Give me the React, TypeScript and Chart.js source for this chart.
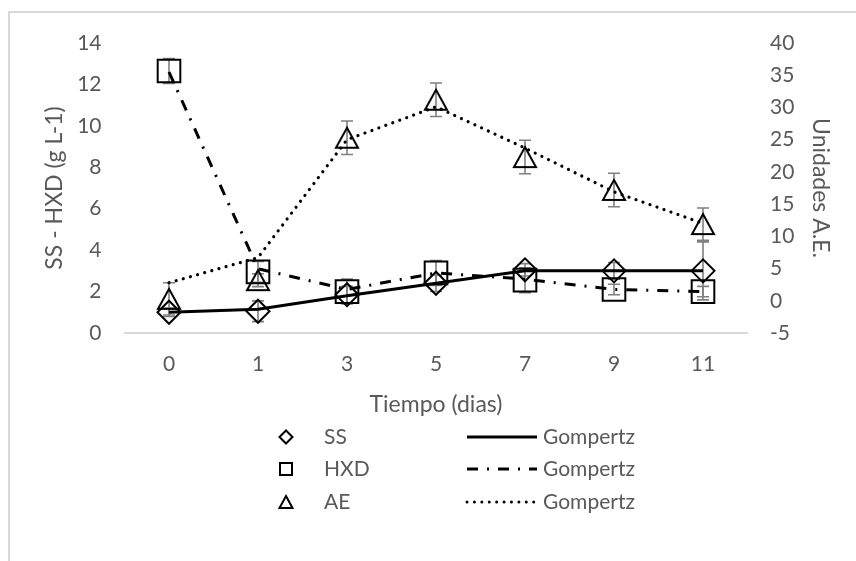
import React, { useEffect, useRef } from 'react';
import { Chart, registerables } from 'chart.js';

Chart.register(...registerables);

// ---- data ----
const days = ['0', '1', '3', '5', '7', '9', '11'];

const ssValues = [1.0, 1.05, 1.85, 2.4, 3.05, 3.0, 3.0];
const ssErrors = [0.2, 0.5, 0.4, 0.4, 0.3, 0.4, 1.4];
const ssGompertz = [1.0, 1.15, 1.8, 2.4, 3.0, 3.0, 3.0];

const hxdValues = [12.65, 2.95, 2.0, 2.9, 2.55, 2.1, 2.0];
const hxdErrors = [0.6, 0.5, 0.6, 0.6, 0.6, 0.25, 0.25];
const hxdGompertz = [12.6, 3.1, 2.1, 2.9, 2.6, 2.1, 2.0];

const aeValues = [0.3, 3.2, 25.3, 31.2, 22.3, 17.2, 11.9];
const aeErrors = [2.5, 1.0, 2.6, 2.6, 2.6, 2.6, 2.5];
const aeGompertz = [2.8, 6.7, 25.0, 30.1, 23.7, 16.9, 12.0];

const legendMarkerLabels = ['SS', 'HXD', 'AE'];
const legendLineLabels = ['Gompertz', 'Gompertz', 'Gompertz'];

const leftTitle = 'SS - HXD (g L-1)';
const rightTitle = 'Unidades A.E.';
const xTitle = 'Tiempo (dias)';

// ---- styles ----
const TEXT = '#595959';
const FONT = 'Lato, "Open Sans", sans-serif';
const TICK_SIZE = 21;
const TITLE_SIZE = 23;
const DASH_DOT = [11, 9, 2, 9];
const DOTS = [0.01, 7.4];

function makeTriangle(w: number, h: number, lw: number): HTMLCanvasElement {
  const c = document.createElement('canvas');
  const pad = 10;
  c.width = Math.ceil(w) + pad * 2;
  c.height = Math.ceil(h) + pad * 2;
  if (c.width % 2) c.width += 1;
  if (c.height % 2) c.height += 1;
  const ctx = c.getContext('2d')!;
  const cx = c.width / 2;
  const cy = c.height / 2;
  ctx.beginPath();
  ctx.moveTo(cx, cy - h / 2);
  ctx.lineTo(cx + w / 2, cy + h / 2);
  ctx.lineTo(cx - w / 2, cy + h / 2);
  ctx.closePath();
  ctx.lineWidth = lw;
  ctx.lineJoin = 'miter';
  ctx.strokeStyle = '#000';
  ctx.stroke();
  return c;
}

const errorBarPlugin = {
  id: 'errorBars',
  beforeDatasetsDraw(chart: any) {
    const sets = [
      { idx: 0, values: ssValues, errors: ssErrors, axis: 'y' },
      { idx: 2, values: hxdValues, errors: hxdErrors, axis: 'y' },
      { idx: 4, values: aeValues, errors: aeErrors, axis: 'y1' },
    ];
    const ctx = chart.ctx;
    ctx.save();
    ctx.strokeStyle = '#808080';
    ctx.lineWidth = 1.6;
    for (const s of sets) {
      const meta = chart.getDatasetMeta(s.idx);
      const scale = chart.scales[s.axis];
      meta.data.forEach((el: any, i: number) => {
        const x = el.x;
        const yTop = scale.getPixelForValue(s.values[i] + s.errors[i]);
        const yBot = scale.getPixelForValue(s.values[i] - s.errors[i]);
        ctx.beginPath();
        ctx.moveTo(x, yTop);
        ctx.lineTo(x, yBot);
        ctx.moveTo(x - 6, yTop);
        ctx.lineTo(x + 6, yTop);
        ctx.moveTo(x - 6, yBot);
        ctx.lineTo(x + 6, yBot);
        ctx.stroke();
      });
    }
    ctx.restore();
  },
};

const customLegendPlugin = {
  id: 'customLegend',
  afterDraw(chart: any) {
    const ctx = chart.ctx;
    const rows = [437, 469, 502];
    const markerX = 286;
    const labelX = 324;
    const lineX1 = 467;
    const lineX2 = 537;
    const textX = 543;
    const dashes = [[], DASH_DOT, DOTS];
    ctx.save();
    ctx.font = `${TICK_SIZE}px ${FONT}`;
    ctx.fillStyle = TEXT;
    ctx.textBaseline = 'middle';
    ctx.textAlign = 'left';
    rows.forEach((y, i) => {
      ctx.save();
      ctx.strokeStyle = '#000';
      ctx.lineWidth = 2;
      ctx.beginPath();
      if (i === 0) {
        const r = 6.5;
        ctx.moveTo(markerX, y - r);
        ctx.lineTo(markerX + r, y);
        ctx.lineTo(markerX, y + r);
        ctx.lineTo(markerX - r, y);
        ctx.closePath();
      } else if (i === 1) {
        ctx.rect(markerX - 6, y - 6, 12, 12);
      } else {
        ctx.moveTo(markerX, y - 6);
        ctx.lineTo(markerX + 6.5, y + 6);
        ctx.lineTo(markerX - 6.5, y + 6);
        ctx.closePath();
      }
      ctx.stroke();
      ctx.restore();
      ctx.fillText(legendMarkerLabels[i], labelX, y);
      ctx.save();
      ctx.strokeStyle = '#000';
      ctx.lineWidth = 3;
      ctx.setLineDash(dashes[i]);
      ctx.lineCap = i === 2 ? 'round' : 'butt';
      ctx.beginPath();
      ctx.moveTo(lineX1, y);
      ctx.lineTo(lineX2, y);
      ctx.stroke();
      ctx.restore();
      ctx.fillText(legendLineLabels[i], textX, y);
    });
    ctx.restore();
  },
};

export default function App() {
  const canvasRef = useRef<HTMLCanvasElement | null>(null);

  useEffect(() => {
    document.body.style.margin = '0';
    const canvas = canvasRef.current;
    if (!canvas) return;
    const triangle = makeTriangle(22, 20, 2);

    const chart = new Chart(canvas, {
      type: 'line',
      data: {
        labels: days,
        datasets: [
          {
            label: 'SS',
            data: ssValues,
            yAxisID: 'y',
            showLine: false,
            pointStyle: 'rectRot',
            pointRadius: 11.5,
            pointBorderWidth: 2,
            pointBorderColor: '#000',
            pointBackgroundColor: 'rgba(0,0,0,0)',
            borderColor: '#000',
          },
          {
            label: 'Gompertz',
            data: ssGompertz,
            yAxisID: 'y',
            borderColor: '#000',
            borderWidth: 3,
            pointRadius: 0,
            tension: 0,
          },
          {
            label: 'HXD',
            data: hxdValues,
            yAxisID: 'y',
            showLine: false,
            pointStyle: 'rect',
            pointRadius: 16,
            pointBorderWidth: 2,
            pointBorderColor: '#000',
            pointBackgroundColor: 'rgba(0,0,0,0)',
            borderColor: '#000',
          },
          {
            label: 'Gompertz',
            data: hxdGompertz,
            yAxisID: 'y',
            borderColor: '#000',
            borderWidth: 3,
            borderDash: DASH_DOT,
            pointRadius: 0,
            tension: 0,
          },
          {
            label: 'AE',
            data: aeValues,
            yAxisID: 'y1',
            showLine: false,
            pointStyle: triangle,
            pointRadius: 12,
            pointBorderColor: '#000',
            pointBackgroundColor: 'rgba(0,0,0,0)',
            borderColor: '#000',
          },
          {
            label: 'Gompertz',
            data: aeGompertz,
            yAxisID: 'y1',
            borderColor: '#000',
            borderWidth: 3.2,
            borderDash: DOTS,
            borderCapStyle: 'round',
            pointRadius: 0,
            tension: 0,
          },
        ],
      },
      options: {
        animation: false,
        responsive: true,
        maintainAspectRatio: false,
        layout: { padding: { top: 43, left: 0, right: 0, bottom: 138 } },
        plugins: {
          legend: { display: false },
          tooltip: { enabled: false },
        },
        scales: {
          x: {
            type: 'category',
            offset: true,
            grid: { display: false, drawTicks: false },
            border: { display: true, color: '#d9d9d9', width: 2 },
            ticks: { color: TEXT, font: { family: FONT, size: TICK_SIZE }, padding: 18.9, maxRotation: 0 },
            title: {
              display: true,
              text: xTitle,
              color: TEXT,
              font: { family: FONT, size: TITLE_SIZE },
              padding: { top: 0, bottom: 4.2 },
            },
            afterFit: (s: any) => {
              s.height = 90;
            },
          },
          y: {
            position: 'left',
            min: 0,
            max: 14,
            grid: { display: false, drawTicks: false },
            border: { display: false },
            ticks: { stepSize: 2, color: TEXT, font: { family: FONT, size: TICK_SIZE }, padding: 23 },
            title: {
              display: true,
              text: leftTitle,
              color: TEXT,
              font: { family: FONT, size: TITLE_SIZE },
              padding: { top: 41.2, bottom: 0 },
            },
            afterFit: (s: any) => {
              s.width = 124.5;
            },
          },
          y1: {
            position: 'right',
            min: -5,
            max: 40,
            grid: { display: false, drawTicks: false },
            border: { display: false },
            ticks: { stepSize: 5, color: TEXT, font: { family: FONT, size: TICK_SIZE }, padding: 22.5 },
            title: {
              display: true,
              text: rightTitle,
              color: TEXT,
              font: { family: FONT, size: TITLE_SIZE },
              padding: { top: 22.2, bottom: 0 },
            },
            afterFit: (s: any) => {
              s.width = 108.5;
            },
          },
        },
      } as any,
      plugins: [errorBarPlugin, customLegendPlugin],
    });

    return () => {
      chart.destroy();
    };
  }, []);

  return (
    <div style={{ position: 'relative', width: 856, height: 561, overflow: 'hidden', background: '#fff' }}>
      <div
        style={{
          position: 'absolute',
          left: 8,
          top: 11,
          width: 900,
          height: 600,
          borderLeft: '2px solid #d9d9d9',
          borderTop: '2px solid #d9d9d9',
          boxSizing: 'border-box',
        }}
      />
      <div style={{ position: 'absolute', left: 0, top: 0, width: 856, height: 561 }}>
        <canvas ref={canvasRef} />
      </div>
    </div>
  );
}
